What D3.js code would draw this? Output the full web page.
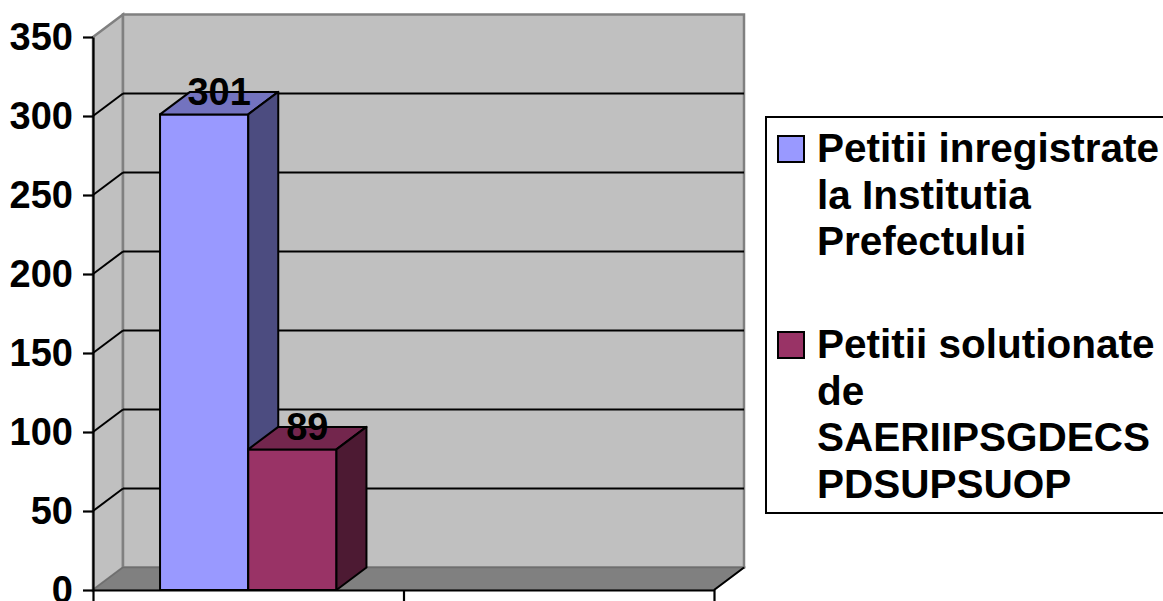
<!DOCTYPE html>
<html>
<head>
<meta charset="utf-8">
<script src="https://cdn.jsdelivr.net/npm/d3@7"></script>
<style>
  body { margin:0; background:#fff; }
  svg { display:block; font-family:"Liberation Sans", Arial, sans-serif; font-weight:bold; }
</style>
</head>
<body>
<div id="canvas"></div>
<script>
// data
var categories = ["c1", "c2"];          // second category is empty
var seriesNames = ["Petitii inregistrate la Institutia Prefectului",
                   "Petitii solutionate de SAERIIPSGDECS PDSUPSUOP"];
var seriesValues = [301, 89];
var seriesColors = ["#9999ff", "#993366"];
var seriesTop = ["#7373bf", "#73264d"];
var seriesSide = ["#4c4c80", "#4d1a33"];
var legendLines = [["Petitii inregistrate", "la Institutia", "Prefectului"],
                   ["Petitii solutionate", "de", "SAERIIPSGDECS", "PDSUPSUOP"]];
var yTicks = [0, 50, 100, 150, 200, 250, 300, 350];

var W = 1163, H = 601;
var x0 = 93, x1 = 714, yBase = 590, yTop = 37;
var dx = 30, dy = -22.5;   // depth offset

var svg = d3.select('#canvas').append('svg')
    .attr('width', W).attr('height', H);

var y = d3.scaleLinear().domain([0, 350]).range([yBase, yTop]);
var xCat = d3.scaleBand().domain(categories).range([x0, x1]);
var xSer = d3.scaleBand().domain(d3.range(seriesValues.length))
    .range([0, xCat.bandwidth()]).paddingInner(0).paddingOuter(0.76);
var xEdge = d3.scaleLinear().domain([0, categories.length]).range([x0, x1]);

function pts(a){ return a.map(function(p){ return p.join(','); }).join(' '); }

// walls
svg.append('polygon')
    .attr('points', pts([[x0, y(350)], [x0+dx, y(350)+dy], [x0+dx, yBase+dy], [x0, yBase]]))
    .attr('fill', '#c0c0c0').attr('stroke', '#808080').attr('stroke-width', 2.5);
svg.append('rect')
    .attr('x', x0+dx).attr('y', y(350)+dy)
    .attr('width', x1-x0).attr('height', yBase-y(350))
    .attr('fill', '#c0c0c0').attr('stroke', '#808080').attr('stroke-width', 2.5);

// gridlines
var grid = yTicks.filter(function(d){ return d > 0 && d < 350; });
svg.selectAll('.gback').data(grid).enter().append('line')
    .attr('x1', x0+dx).attr('x2', x1+dx)
    .attr('y1', function(d){ return y(d)+dy; }).attr('y2', function(d){ return y(d)+dy; })
    .attr('stroke', '#000').attr('stroke-width', 2);
svg.selectAll('.gside').data(grid).enter().append('line')
    .attr('x1', x0).attr('x2', x0+dx)
    .attr('y1', function(d){ return y(d); }).attr('y2', function(d){ return y(d)+dy; })
    .attr('stroke', '#000').attr('stroke-width', 2);

// floor
svg.append('polygon')
    .attr('points', pts([[x0, yBase], [x1, yBase], [x1+dx, yBase+dy], [x0+dx, yBase+dy]]))
    .attr('fill', '#808080').attr('stroke', '#6e6e6e').attr('stroke-width', 1.5);
svg.append('line')
    .attr('x1', x1).attr('y1', yBase).attr('x2', x1+dx).attr('y2', yBase+dy)
    .attr('stroke', '#000').attr('stroke-width', 2);

// bars
seriesValues.forEach(function(v, i){
  var bx = xCat(categories[0]) + xSer(i), bw = xSer.bandwidth(), ty = y(v);
  var g = svg.append('g').attr('class', 'bar');
  g.append('rect').attr('x', bx).attr('y', ty).attr('width', bw).attr('height', yBase-ty)
    .attr('fill', seriesColors[i]).attr('stroke', '#000').attr('stroke-width', 2);
  g.append('polygon')
    .attr('points', pts([[bx, ty], [bx+dx, ty+dy], [bx+bw+dx, ty+dy], [bx+bw, ty]]))
    .attr('fill', seriesTop[i]).attr('stroke', '#000').attr('stroke-width', 2).attr('stroke-linejoin', 'round');
  g.append('polygon')
    .attr('points', pts([[bx+bw, ty], [bx+bw+dx, ty+dy], [bx+bw+dx, yBase+dy], [bx+bw, yBase]]))
    .attr('fill', seriesSide[i]).attr('stroke', '#000').attr('stroke-width', 2).attr('stroke-linejoin', 'round');
  g.append('text')
    .attr('x', bx + bw/2 + dx/2).attr('y', ty + dy/2 + 2)
    .attr('text-anchor', 'middle').attr('font-size', 38)
    .text(v);
});

// axes
var axisY = d3.axisLeft(y).tickValues(yTicks).tickSize(10).tickSizeOuter(0).tickPadding(10);
var gy = svg.append('g').attr('transform', 'translate(' + x0 + ',0)').call(axisY);
gy.selectAll('text').attr('font-size', 38).attr('font-family', null).attr('fill', '#000');
gy.selectAll('line, path').attr('stroke', '#000').attr('stroke-width', 2.2);

var axisX = d3.axisBottom(xEdge).tickValues(d3.range(categories.length + 1))
    .tickSize(11).tickSizeOuter(0).tickFormat('');
var gx = svg.append('g').attr('transform', 'translate(0,' + yBase + ')').call(axisX);
gx.selectAll('line, path').attr('stroke', '#000').attr('stroke-width', 2.2);

// legend
svg.append('rect').attr('x', 766).attr('y', 117).attr('width', 420).attr('height', 396)
    .attr('fill', '#fff').attr('stroke', '#000').attr('stroke-width', 2);
var firstBase = [162, 358];
legendLines.forEach(function(lines, i){
  svg.append('rect').attr('x', 778).attr('y', firstBase[i] - 26).attr('width', 26).attr('height', 26)
    .attr('fill', seriesColors[i]).attr('stroke', '#000').attr('stroke-width', 2);
  var t = svg.append('text').attr('font-size', 40.5).attr('x', 817).attr('y', firstBase[i]);
  lines.forEach(function(l, j){
    t.append('tspan').attr('x', 817).attr('y', firstBase[i] + j*46.5).text(l);
  });
});
</script>
</body>
</html>
